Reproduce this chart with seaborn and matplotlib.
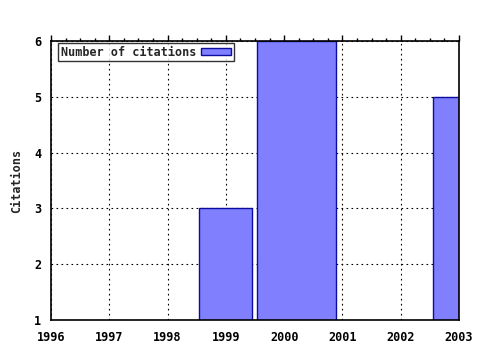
import matplotlib
matplotlib.use("Agg")
import matplotlib.pyplot as plt
import seaborn as sns
import numpy as np
import pandas as pd
from matplotlib.ticker import MultipleLocator
from matplotlib.patches import Patch

# data
years = [1999, 2000, 2003]
citations = [3, 6, 5]
series_label = "Number of citations"
y_label = "Citations"
x_ticks = [1996, 1997, 1998, 1999, 2000, 2001, 2002, 2003]
y_ticks = [1, 2, 3, 4, 5, 6]

# layout: bar extents relative to each year (left, right)
bar_extents = {1999: (-0.46, 0.45), 2000: (-0.47, 0.89), 2003: (-0.45, 0.45)}

fill = "#8080ff"
edge = "#0c0ca0"

sns.set_style("white")
plt.rcParams['font.family'] = ['DejaVu Sans Mono']
plt.rcParams['font.weight'] = 'bold'

fig = plt.figure(figsize=(4.8, 3.5), dpi=100)
ax = fig.add_axes([51/480, 1 - 320/350, 408/480, 279/350])

for yr, val in zip(years, citations):
    l, r = bar_extents[yr]
    df = pd.DataFrame({"year": [yr + (l + r) / 2], "cit": [val]})
    sns.barplot(data=df, x="year", y="cit", native_scale=True, width=r - l,
                color=fill, saturation=1, edgecolor=edge, linewidth=1.0,
                ax=ax, zorder=3, err_kws={'linewidth': 0})

ax.set_xlim(1996, 2003)
ax.set_ylim(1, 6)
ax.set_xticks(x_ticks)
ax.set_xticklabels([str(t) for t in x_ticks])
ax.set_yticks(y_ticks)
ax.set_yticklabels([str(t) for t in y_ticks])
ax.xaxis.set_minor_locator(MultipleLocator(0.25))
ax.grid(True, which='major', linestyle=(0, (1.5, 3)), color='black', linewidth=0.8, zorder=1)
ax.set_axisbelow(True)
ax.set_xlabel("")
ax.set_ylabel(y_label, fontsize=8.5, fontweight='bold', labelpad=8)

for s in ax.spines.values():
    s.set_visible(True)
    s.set_color('black')
    s.set_linewidth(1.2)
    s.set_zorder(5)

ax.tick_params(axis='x', which='major', direction='out', length=4, width=1, top=True,
               labelsize=8.5, pad=4, colors='black')
ax.tick_params(axis='x', which='minor', direction='out', length=2, width=1, top=True, colors='black')
ax.tick_params(axis='y', which='major', direction='inout', length=6, width=1, right=False,
               labelsize=8.5, pad=4, colors='black')
for lab in ax.get_xticklabels() + ax.get_yticklabels():
    lab.set_fontweight('bold')

handle = Patch(facecolor=fill, edgecolor=edge, linewidth=1.0)
leg = ax.legend([handle], [series_label], loc='upper left', bbox_to_anchor=(0.012, 1.0),
                fontsize=8.5, frameon=True, fancybox=False, edgecolor='black',
                borderpad=0.2, handlelength=2.6, handleheight=0.6, handletextpad=0.4,
                markerfirst=False, borderaxespad=0.2)
leg.get_frame().set_linewidth(1.0)
for t in leg.get_texts():
    t.set_fontweight('bold')

fig.savefig("out.png", dpi=100)
